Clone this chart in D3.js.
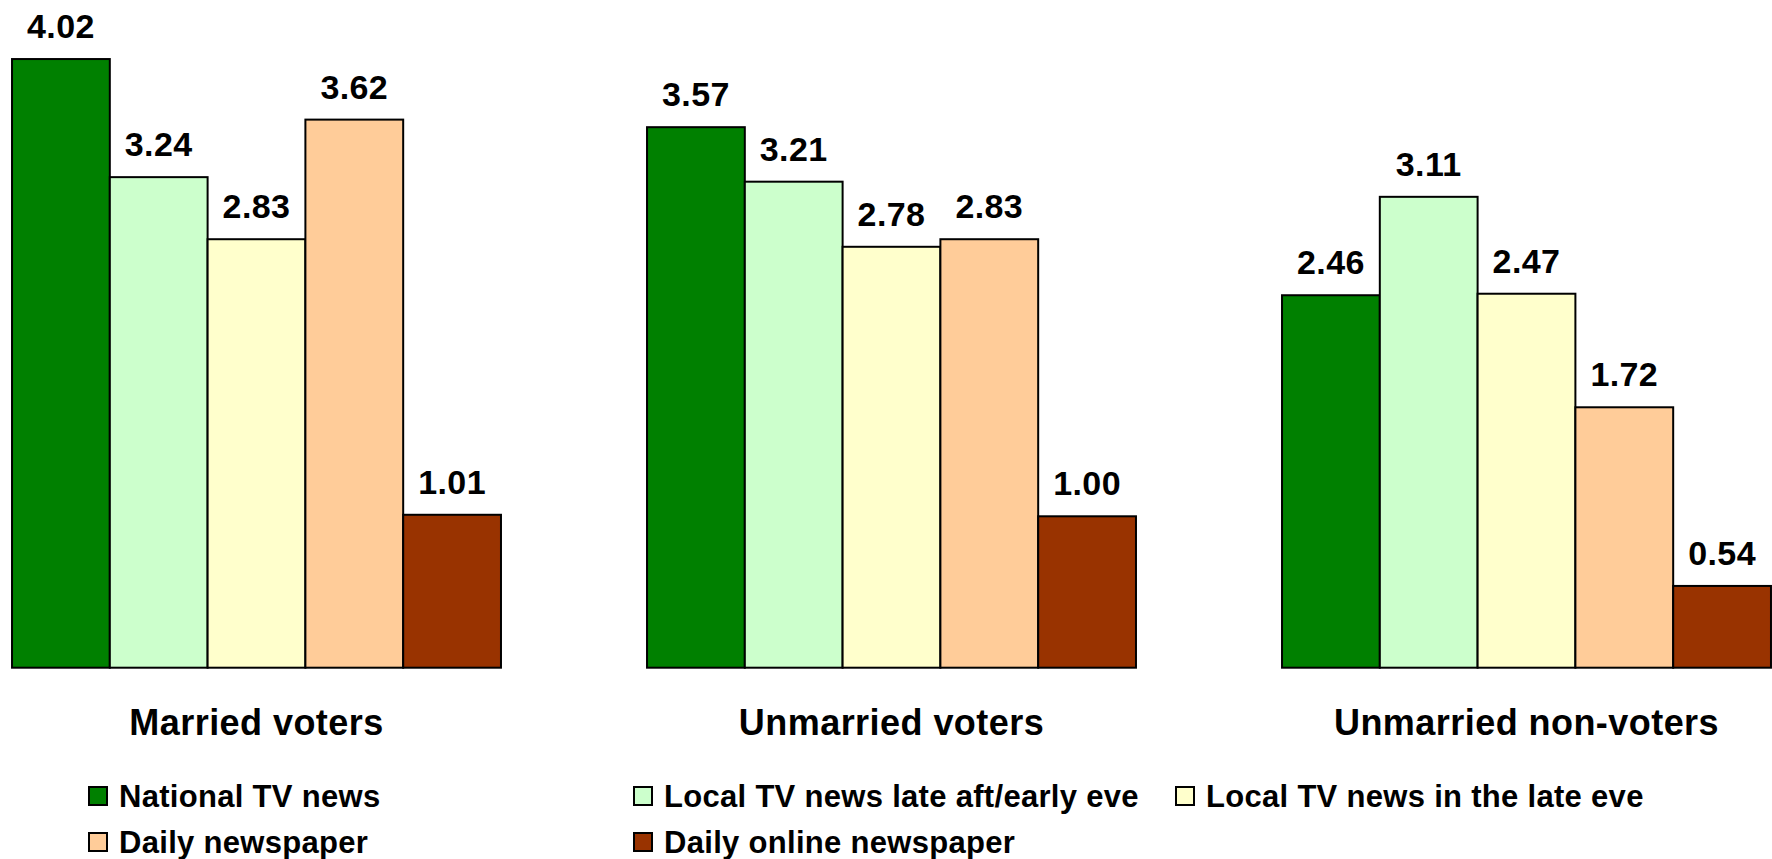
<!DOCTYPE html>
<html>
<head>
<meta charset="utf-8">
<script src="https://cdn.jsdelivr.net/npm/d3@7"></script>
<style>
  html, body { margin: 0; padding: 0; background: #fff; }
  svg { display: block; }
  text { font-family: "Liberation Sans", Arial, sans-serif; font-weight: bold; fill: #000; }
</style>
</head>
<body>
<svg id="chart" width="1772" height="859"></svg>
<script>
// ---- data ----
const categories = ["Married voters", "Unmarried voters", "Unmarried non-voters"];
const seriesNames = ["National TV news", "Local TV news late aft/early eve", "Local TV news in the late eve", "Daily newspaper", "Daily online newspaper"];
const nationalTV = [4.02, 3.57, 2.46];
const localLateAft = [3.24, 3.21, 3.11];
const localLateEve = [2.83, 2.78, 2.47];
const dailyNewspaper = [3.62, 2.83, 1.72];
const dailyOnline = [1.01, 1.00, 0.54];
const seriesColors = ["#008000", "#CCFFCC", "#FFFFCC", "#FFCC99", "#993300"];

const seriesValues = [nationalTV, localLateAft, localLateEve, dailyNewspaper, dailyOnline];

// ---- layout ----
const svg = d3.select("#chart");
const baseline = 667.7;

const x0 = d3.scaleBand().domain(categories).range([-61, 1844]).paddingInner(0.23).paddingOuter(0.115);
const x1 = d3.scaleBand().domain(seriesNames).range([0, x0.bandwidth()]).padding(0);
const y = d3.scaleLinear().domain([0, 4.41]).range([baseline, 0]);
const color = d3.scaleOrdinal().domain(seriesNames).range(seriesColors);

const rows = [];
categories.forEach((c, ci) => {
  seriesNames.forEach((s, si) => {
    rows.push({ cat: c, series: s, value: seriesValues[si][ci] });
  });
});

const g = svg.append("g");

g.selectAll("rect.bar")
  .data(rows)
  .join("rect")
  .attr("class", "bar")
  .attr("x", d => x0(d.cat) + x1(d.series))
  .attr("y", d => y(d.value))
  .attr("width", x1.bandwidth())
  .attr("height", d => baseline - y(d.value))
  .attr("fill", d => color(d.series))
  .attr("stroke", "#000")
  .attr("stroke-width", 2);

g.selectAll("text.val")
  .data(rows)
  .join("text")
  .attr("class", "val")
  .attr("x", d => x0(d.cat) + x1(d.series) + x1.bandwidth() / 2)
  .attr("y", d => y(d.value) - 21)
  .attr("text-anchor", "middle")
  .style("font-size", "34px")
  .style("letter-spacing", "0.4px")
  .text(d => d.value.toFixed(2));

// category axis labels
const xAxis = d3.axisBottom(x0).tickSize(0).tickPadding(0);
const axisG = svg.append("g").attr("transform", `translate(0,${baseline})`).call(xAxis);
axisG.select(".domain").remove();
axisG.selectAll(".tick text")
  .attr("dy", null)
  .attr("y", 735 - baseline)
  .style("font-size", "36px")
  .style("letter-spacing", "0.45px")
  .style("font-family", "'Liberation Sans', Arial, sans-serif")
  .style("font-weight", "bold")
  .attr("fill", "#000");

// legend
const legendCols = [89, 634, 1176];
const legendRows = [787, 833];
const legend = svg.append("g");
const items = legend.selectAll("g.item")
  .data(seriesNames)
  .join("g")
  .attr("class", "item")
  .attr("transform", (d, i) => `translate(${legendCols[i % 3]},${legendRows[Math.floor(i / 3)]})`);
items.append("rect")
  .attr("x", 0).attr("y", 0)
  .attr("width", 18).attr("height", 18)
  .attr("fill", d => color(d))
  .attr("stroke", "#000")
  .attr("stroke-width", 2);
items.append("text")
  .attr("x", 30)
  .attr("y", 19.5)
  .style("font-size", "31px")
  .style("letter-spacing", "0.3px")
  .text(d => d);
</script>
</body>
</html>
